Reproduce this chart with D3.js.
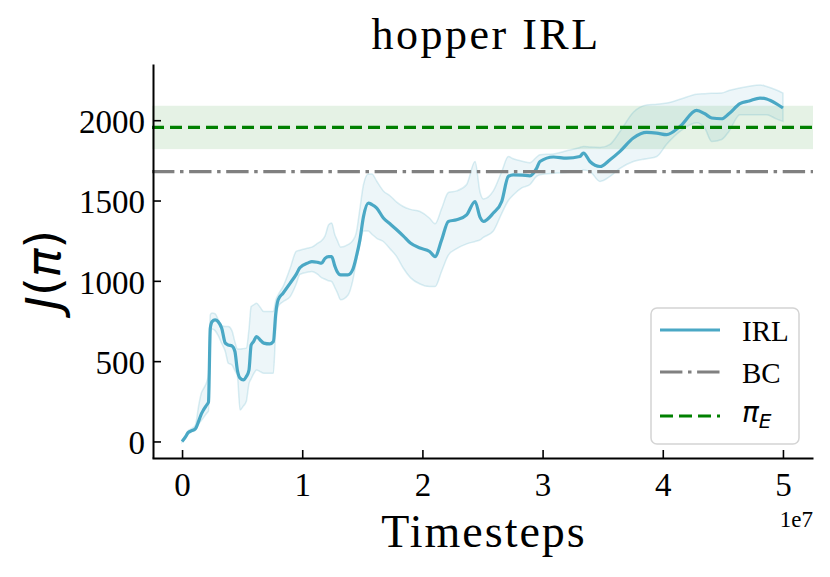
<!DOCTYPE html>
<html>
<head>
<meta charset="utf-8">
<script src="https://cdn.jsdelivr.net/npm/d3@7"></script>
<style>
  html, body { margin: 0; padding: 0; background: #fff; }
  svg { display: block; }
</style>
</head>
<body>
<svg id="chart" width="830" height="577"></svg>
<script>
// ---- data (timesteps in units of 1e7) ----
const steps = [0.00,0.03,0.05,0.08,0.11,0.14,0.16,0.18,0.205,0.22,0.235,0.25,0.275,0.30,0.33,0.36,0.385,0.415,0.44,0.46,0.483,0.51,0.535,0.557,0.575,0.595,0.62,0.65,0.68,0.73,0.76,0.78,0.80,0.84,0.90,0.95,0.98,1.05,1.08,1.13,1.16,1.19,1.22,1.245,1.27,1.29,1.32,1.38,1.42,1.45,1.48,1.51,1.55,1.58,1.62,1.675,1.73,1.786,1.84,1.90,1.98,2.06,2.105,2.16,2.216,2.285,2.368,2.438,2.48,2.507,2.59,2.66,2.715,2.756,2.83,2.895,2.95,2.978,3.09,3.20,3.31,3.34,3.394,3.478,3.561,3.644,3.755,3.866,3.95,4.032,4.143,4.282,4.35,4.407,4.49,4.55,4.642,4.72,4.809,4.864,4.94,5.00];
const irlMean = [0,30,55,67,78,130,170,198,227,245,705,746,757,746,705,612,601,595,560,445,394,383,404,445,600,622,653,632,612,607,622,799,882,923,986,1040,1081,1112,1120,1115,1110,1140,1151,1151,1095,1058,1037,1037,1070,1150,1255,1401,1484,1475,1453,1391,1355,1318,1280,1235,1204,1183,1151,1255,1370,1380,1411,1494,1395,1370,1422,1494,1650,1660,1658,1654,1700,1743,1771,1764,1774,1796,1743,1712,1754,1806,1889,1924,1920,1910,1961,2061,2040,2014,2009,2040,2103,2120,2138,2132,2105,2076];
const irlLow = [-5,20,45,58,68,110,130,150,176,190,674,700,690,660,610,560,487,477,440,410,196,220,250,360,390,420,445,435,425,425,425,700,840,870,902,980,1040,1055,1058,1040,1020,1010,1000,996,960,930,882,910,1000,1120,1230,1310,1310,1290,1265,1245,1200,1151,1080,1020,980,964,964,1060,1160,1200,1230,1245,1255,1270,1310,1420,1500,1535,1580,1600,1650,1660,1670,1675,1680,1690,1681,1619,1650,1700,1743,1760,1774,1850,1930,1985,1950,1868,1880,1930,2034,2034,2034,2034,2010,1993];
const irlHigh = [5,40,65,80,100,230,300,330,370,420,788,800,795,760,720,715,715,690,620,575,575,578,581,700,840,850,861,835,809,809,809,880,913,964,1080,1183,1190,1204,1210,1235,1250,1280,1349,1360,1290,1255,1210,1225,1250,1300,1450,1600,1665,1665,1620,1560,1530,1490,1463,1445,1432,1390,1355,1450,1550,1560,1600,1743,1550,1510,1560,1680,1774,1760,1745,1735,1770,1785,1790,1810,1830,1837,1833,1830,1850,1930,2050,2095,2100,2107,2130,2162,2165,2168,2169,2185,2200,2212,2220,2210,2190,2169];
const bcValue = 1680;
const expertMean = 1955;
const expertStd = 135;
const xTicks = [0, 1, 2, 3, 4, 5];
const yTicks = [0, 500, 1000, 1500, 2000];
const legendLabels = ["IRL", "BC", "πE"];

// ---- chart ----
const svg = d3.select("#chart");
const serif = "'Liberation Serif', 'Times New Roman', serif";
const mathFont = "'DejaVu Sans', sans-serif";
const blue = "#4aa8c5";

const x = d3.scaleLinear().domain([-0.25, 5.25]).range([152, 813]);
const y = d3.scaleLinear().domain([-103, 2350]).range([458, 64]);

const rows = steps.map((s, i) => ({ s, m: irlMean[i], lo: irlLow[i], hi: irlHigh[i] }));

// expert std band
svg.append("rect")
  .attr("x", x.range()[0]).attr("width", x.range()[1] - x.range()[0])
  .attr("y", y(expertMean + expertStd))
  .attr("height", y(expertMean - expertStd) - y(expertMean + expertStd))
  .attr("fill", "#008000").attr("fill-opacity", 0.1);

// IRL band
svg.append("path").datum(rows)
  .attr("d", d3.area().x(d => x(d.s)).y0(d => y(d.lo)).y1(d => y(d.hi)).curve(d3.curveMonotoneX))
  .attr("fill", blue).attr("fill-opacity", 0.1)
  .attr("stroke", blue).attr("stroke-opacity", 0.2).attr("stroke-width", 1.5);

// IRL mean
svg.append("path").datum(rows)
  .attr("d", d3.line().x(d => x(d.s)).y(d => y(d.m)).curve(d3.curveMonotoneX))
  .attr("fill", "none").attr("stroke", blue).attr("stroke-width", 3.2)
  .attr("stroke-linejoin", "round");

// BC line
svg.append("line")
  .attr("x1", x.range()[0]).attr("x2", x.range()[1])
  .attr("y1", y(bcValue)).attr("y2", y(bcValue))
  .attr("stroke", "#808080").attr("stroke-width", 3.2)
  .attr("stroke-dasharray", "22.4,5.6,3.5,5.6");

// expert line
svg.append("line")
  .attr("x1", x.range()[0]).attr("x2", x.range()[1])
  .attr("y1", y(expertMean)).attr("y2", y(expertMean))
  .attr("stroke", "#008000").attr("stroke-width", 3.2)
  .attr("stroke-dasharray", "12,6");

// axes
const xAxis = svg.append("g").attr("transform", `translate(0,${y.range()[0]})`)
  .call(d3.axisBottom(x).tickValues(xTicks).tickFormat(d3.format("d")).tickSizeInner(-8).tickSizeOuter(0).tickPadding(14));
const yAxis = svg.append("g").attr("transform", `translate(${x.range()[0] + 1},0)`)
  .call(d3.axisLeft(y).tickValues(yTicks).tickFormat(d3.format("d")).tickSizeInner(-8).tickSizeOuter(0).tickPadding(8));

[xAxis, yAxis].forEach(g => {
  g.select(".domain").attr("stroke", "#000").attr("stroke-width", 2);
  g.selectAll(".tick line").attr("stroke", "#000").attr("stroke-width", 1.6);
  g.selectAll(".tick text").attr("font-family", serif).attr("font-size", 33).attr("fill", "#000");
});
xAxis.selectAll(".tick text").attr("dy", "0.72em");
yAxis.selectAll(".tick text").attr("dy", "0.37em");

// titles
svg.append("text").attr("x", 486).attr("y", 49).attr("text-anchor", "middle")
  .attr("font-family", serif).attr("font-size", 44).attr("letter-spacing", 2.5)
  .text("hopper IRL");
svg.append("text").attr("x", 484).attr("y", 547).attr("text-anchor", "middle")
  .attr("font-family", serif).attr("font-size", 46).attr("letter-spacing", 2)
  .text("Timesteps");
svg.append("text").attr("x", 813).attr("y", 527).attr("text-anchor", "end")
  .attr("font-family", serif).attr("font-size", 23).text("1e7");

const yl = svg.append("text")
  .attr("transform", "translate(60,270) rotate(-90)")
  .attr("text-anchor", "middle")
  .attr("font-family", mathFont).attr("font-style", "italic").attr("font-size", 48);
yl.append("tspan").text("J");
yl.append("tspan").attr("font-style", "normal").text("(");
yl.append("tspan").text("π");
yl.append("tspan").attr("font-style", "normal").text(")");

// legend
const lg = svg.append("g");
lg.append("rect").attr("x", 651).attr("y", 308).attr("width", 148).attr("height", 136)
  .attr("rx", 6).attr("fill", "#fff").attr("fill-opacity", 0.8)
  .attr("stroke", "#d4d4d4").attr("stroke-width", 1.5);
const legendRows = [
  { label: legendLabels[0], y: 330, color: blue, dash: null },
  { label: legendLabels[1], y: 372, color: "#808080", dash: "22.4,5.6,3.5,5.6" },
  { label: legendLabels[2], y: 416, color: "#008000", dash: "13,6" }
];
legendRows.forEach((r, i) => {
  lg.append("line").attr("x1", 660).attr("x2", 720).attr("y1", r.y).attr("y2", r.y)
    .attr("stroke", r.color).attr("stroke-width", 3.2)
    .attr("stroke-dasharray", r.dash);
  if (i < 2) {
    lg.append("text").attr("x", 742).attr("y", r.y + 10.5)
      .attr("font-family", serif).attr("font-size", 29).text(r.label);
  } else {
    const t = lg.append("text").attr("x", 742).attr("y", r.y + 6)
      .attr("font-family", mathFont).attr("font-style", "italic").attr("font-size", 28);
    t.append("tspan").text(r.label[0]);
    t.append("tspan").attr("font-size", 20).attr("dy", 6).text(r.label[1]);
  }
});
</script>
</body>
</html>
